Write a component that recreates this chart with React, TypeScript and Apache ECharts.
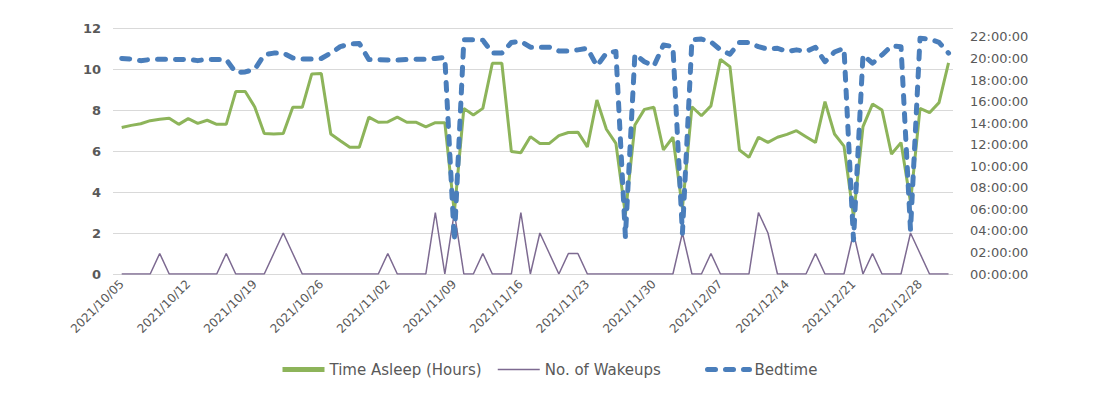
import React, { useEffect, useRef } from "react";
import * as echarts from "echarts";

// Weekly tick labels (one every 7 days, starting 2021/10/05)
const tickLabels = [
  "2021/10/05", "2021/10/12", "2021/10/19", "2021/10/26", "2021/11/02", "2021/11/09",
  "2021/11/16", "2021/11/23", "2021/11/30", "2021/12/07", "2021/12/14", "2021/12/21", "2021/12/28",
];

const seriesNames = ["Time Asleep (Hours)", "No. of Wakeups", "Bedtime"];

// Daily values, 2021/10/05 .. 2021/12/31
const timeAsleep = [
  7.15, 7.25, 7.33, 7.48, 7.55, 7.6, 7.3, 7.58, 7.35, 7.5,
  7.3, 7.3, 8.9, 8.9, 8.15, 6.85, 6.83, 6.85, 8.13, 8.13,
  9.76, 9.78, 6.83, 6.5, 6.18, 6.18, 7.65, 7.4, 7.42, 7.65,
  7.4, 7.4, 7.18, 7.38, 7.38, 3.0, 8.08, 7.76, 8.08, 10.28,
  10.28, 5.97, 5.92, 6.7, 6.37, 6.37, 6.75, 6.9, 6.92, 6.2,
  8.49, 7.06, 6.37, 2.9, 7.27, 8.03, 8.13, 6.05, 6.67, 3.2,
  8.16, 7.72, 8.2, 10.47, 10.11, 6.05, 5.69, 6.67, 6.42, 6.67,
  6.81, 6.99, 6.7, 6.41, 8.41, 6.83, 6.24, 2.8, 7.19, 8.29,
  8.0, 5.85, 6.41, 3.5, 8.08, 7.87, 8.36, 10.3,
];

const wakeups = [
  0, 0, 0, 0, 1, 0, 0, 0, 0, 0,
  0, 1, 0, 0, 0, 0, 1, 2, 1, 0,
  0, 0, 0, 0, 0, 0, 0, 0, 1, 0,
  0, 0, 0, 3, 0, 3, 0, 0, 1, 0,
  0, 0, 3, 0, 2, 1, 0, 1, 1, 0,
  0, 0, 0, 0, 0, 0, 0, 0, 0, 2,
  0, 0, 1, 0, 0, 0, 0, 3, 2, 0,
  0, 0, 0, 1, 0, 0, 0, 2, 0, 1,
  0, 0, 0, 2, 1, 0, 0, 0,
];

// Bedtime in hours of the day
const bedtime = [
  20.0, 19.95, 19.8, 19.9, 19.93, 19.93, 19.9, 19.93, 19.8, 19.93,
  19.9, 19.9, 18.7, 18.75, 19.0, 20.35, 20.5, 20.5, 20.05, 19.95,
  19.95, 20.0, 20.5, 21.1, 21.35, 21.4, 19.9, 19.9, 19.85, 19.85,
  19.9, 19.93, 19.93, 20.0, 20.1, 3.1, 21.73, 21.73, 21.7, 20.5,
  20.5, 21.48, 21.6, 21.05, 21.05, 21.05, 20.7, 20.7, 20.8, 20.95,
  19.3, 20.5, 20.65, 3.47, 20.4, 19.7, 19.3, 21.26, 21.1, 3.78,
  21.73, 21.8, 21.55, 20.8, 20.4, 21.48, 21.48, 21.1, 20.86, 20.95,
  20.65, 20.8, 20.65, 21.04, 19.7, 20.6, 20.95, 3.16, 20.33, 19.56,
  20.33, 21.17, 21.1, 4.08, 21.88, 21.8, 21.5, 20.5,
];

const FONT = "DejaVu Sans";
const TEXT = "#595959";

export default function App() {
  const ref = useRef<HTMLDivElement>(null);

  useEffect(() => {
    document.body.style.margin = "0";
    if (!ref.current) return;
    const chart = echarts.init(ref.current, undefined, { renderer: "svg" });
    const pairs = (arr: number[]) => arr.map((v, i) => [i, v]);
    const tickPos = tickLabels.map((_, k) => k * 7);
    const legendLefts = [280, 497, 705];
    const legendWidths = [5, 1.5, 5];

    chart.setOption({
      animation: false,
      textStyle: { fontFamily: FONT },
      grid: { left: 113, right: 141, top: 28, bottom: 124 },
      legend: seriesNames.map((name, k) => ({
        left: legendLefts[k],
        top: 362,
        padding: 0,
        itemWidth: 42,
        itemHeight: 10,
        itemStyle: { opacity: 0 },
        lineStyle: { width: legendWidths[k] },
        textStyle: { color: TEXT, fontSize: 15, fontFamily: FONT },
        data: [name],
      })),
      xAxis: {
        type: "value",
        min: -0.915,
        max: 87.47,
        splitLine: { show: false },
        axisLine: { show: false },
        axisTick: { show: false, customValues: tickPos },
        axisLabel: {
          customValues: tickPos,
          rotate: 45,
          margin: 8,
          fontSize: 12,
          color: TEXT,
          fontFamily: FONT,
          formatter: (v: number) => tickLabels[Math.round(v / 7)] ?? "",
        },
      },
      yAxis: [
        {
          type: "value",
          min: 0,
          max: 12,
          interval: 2,
          axisLine: { show: false },
          axisTick: { show: false },
          splitLine: { lineStyle: { color: "#D9D9D9", width: 1 } },
          axisLabel: { color: TEXT, fontSize: 13, fontWeight: "bold", margin: 12, fontFamily: FONT },
        },
        {
          type: "value",
          min: 0,
          max: 22.83,
          interval: 2,
          axisLine: { show: false },
          axisTick: { show: false },
          splitLine: { show: false },
          axisLabel: {
            color: TEXT,
            fontSize: 13,
            margin: 17,
            fontFamily: FONT,
            showMaxLabel: false,
            formatter: (v: number) => (v > 22.5 ? "" : String(Math.round(v)).padStart(2, "0") + ":00:00"),
          },
        },
      ],
      series: [
        {
          name: seriesNames[0],
          type: "line",
          yAxisIndex: 0,
          data: pairs(timeAsleep),
          symbol: "none",
          color: "#8DB45A",
          lineStyle: { width: 3, color: "#8DB45A" },
          z: 2,
        },
        {
          name: seriesNames[1],
          type: "line",
          yAxisIndex: 0,
          data: pairs(wakeups),
          symbol: "none",
          color: "#7D6A91",
          lineStyle: { width: 1.5, color: "#7D6A91" },
          z: 3,
        },
        {
          name: seriesNames[2],
          type: "line",
          yAxisIndex: 1,
          data: pairs(bedtime),
          symbol: "none",
          color: "#4A7EBB",
          lineStyle: { width: 5, color: "#4A7EBB", type: [8, 10], cap: "round", join: "round" },
          z: 4,
        },
      ],
    });
    return () => chart.dispose();
  }, []);

  return <div ref={ref} style={{ width: 1094, height: 398 }} />;
}
